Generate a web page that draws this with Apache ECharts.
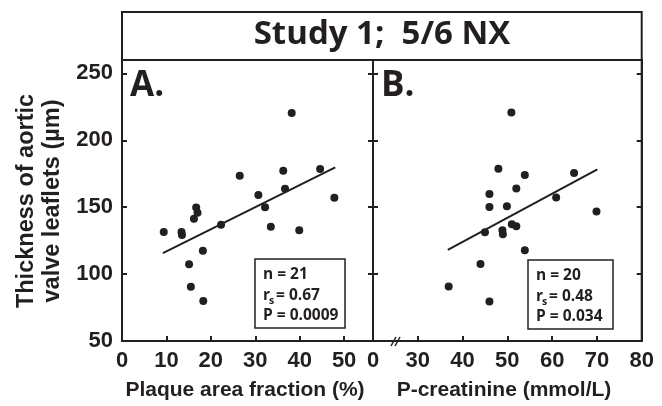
<!DOCTYPE html>
<html><head><meta charset="utf-8">
<script src="https://cdn.jsdelivr.net/npm/echarts@6/dist/echarts.min.js"></script>
<style>html,body{margin:0;padding:0;background:#fff}#c{width:662px;height:406px}</style>
</head><body><div id="c"></div>
<script>
// ---- data ----
const titleText = 'Study 1;  5/6 NX';
const yTicks = [50, 100, 150, 200, 250];
const xTicksA = [0, 10, 20, 30, 40, 50];
const xTicksB = [20, 30, 40, 50, 60, 70, 80];   // 20 is drawn as "0" (axis break)
const xNameA = 'Plaque area fraction (%)';
const xNameB = 'P-creatinine (mmol/L)';
const yName = ['Thickness of aortic', 'valve leaflets (µm)'];

const plaqueX = [9.4, 13.4, 13.5, 15.1, 15.5, 16.2, 16.7, 17.0, 18.2, 18.3, 22.3, 26.5, 30.7, 32.2, 33.5, 36.3, 36.7, 38.2, 39.9, 44.6, 47.8];
const plaqueY = [131.4, 131.4, 129.2, 107.4, 90.6, 141.4, 149.7, 145.9, 117.4, 79.8, 136.9, 173.5, 159.2, 150.0, 135.4, 177.3, 163.8, 220.4, 132.7, 178.6, 157.0];
const fitAx = [9.2, 48.0];
const fitAy = [115.6, 179.8];

const creatX = [36.9, 44.0, 45.0, 46.0, 46.0, 46.0, 48.0, 48.9, 49.0, 49.9, 50.9, 51.0, 52.0, 52.0, 53.9, 53.9, 60.9, 64.9, 69.9];
const creatY = [90.8, 107.6, 131.2, 159.8, 150.2, 79.5, 178.8, 132.7, 129.7, 150.7, 220.7, 137.2, 164.0, 135.7, 174.0, 117.9, 157.2, 175.5, 146.7];
const fitBx = [36.7, 70.1];
const fitBy = [118.1, 178.3];

const statsA = ['n = 21', '0.67', 'P = 0.0009'];
const statsB = ['n = 20', '0.48', 'P = 0.034'];

// ---- build ----
const zip = (a, b) => a.map((v, i) => [v, b[i]]);
const FONT = '"Liberation Sans", Arial, sans-serif';
const FONT2 = '"Open Sans", "Noto Sans", sans-serif';
const black = '#231f20';

const gA = { left: 122, top: 60, width: 251, height: 281 };
const gB = { left: 373, top: 60, width: 268.7, height: 281 };

function yAx(grid, pos, labels) {
  return {
    type: 'value', gridIndex: grid, position: pos, min: 50, max: 260, interval: 50,
    axisLine: { show: true, lineStyle: { color: black, width: 2 } },
    axisTick: { show: true, inside: true, length: 5, lineStyle: { color: black, width: 2 } },
    axisLabel: {
      show: labels, color: black, fontFamily: FONT, fontWeight: 'bold', fontSize: 22, margin: 9,
      formatter: v => yTicks.includes(v) ? String(v) : ''
    },
    splitLine: { show: false }
  };
}
function xAx(grid, min, max, ticks, fmt) {
  return {
    type: 'value', gridIndex: grid, min: min, max: max, interval: 10,
    axisLine: { show: true, onZero: false, lineStyle: { color: black, width: 2 } },
    axisTick: { show: true, inside: true, length: 5, lineStyle: { color: black, width: 2 } },
    axisLabel: {
      color: black, fontFamily: FONT, fontWeight: 'bold', fontSize: 22, margin: 9,
      showMinLabel: true, showMaxLabel: true,
      formatter: v => ticks.includes(v) ? fmt(v) : ''
    },
    splitLine: { show: false }
  };
}

function statBox(x, y, w, h, s) {
  const tx = x + 8;
  const f = 'bold 15.5px ' + FONT2;
  return {
    type: 'group', children: [
      { type: 'rect', shape: { x: x, y: y, width: w, height: h }, style: { fill: '#fff', stroke: black, lineWidth: 1.5 } },
      { type: 'text', x: tx, y: y + 16, style: { text: s[0], font: f, fill: black, verticalAlign: 'middle' } },
      { type: 'text', x: tx, y: y + 37, style: { text: 'r', font: f, fill: black, verticalAlign: 'middle' } },
      { type: 'text', x: tx + 6, y: y + 42, style: { text: 's', font: 'bold 10.5px ' + FONT2, fill: black, verticalAlign: 'middle' } },
      { type: 'text', x: tx + 13, y: y + 37, style: { text: '= ' + s[1], font: f, fill: black, verticalAlign: 'middle' } },
      { type: 'text', x: tx, y: y + 57, style: { text: s[2], font: f, fill: black, verticalAlign: 'middle' } }
    ]
  };
}

const chart = echarts.init(document.getElementById('c'), null, { renderer: 'canvas' });
chart.setOption({
  animation: false,
  backgroundColor: '#fff',
  grid: [
    Object.assign({ show: true, borderColor: black, borderWidth: 2, backgroundColor: 'transparent' }, gA),
    Object.assign({ show: true, borderColor: black, borderWidth: 2, backgroundColor: 'transparent' }, gB)
  ],
  xAxis: [
    xAx(0, 0, 56.5, xTicksA, v => String(v)),
    xAx(1, 20, 80, xTicksB, v => v === 20 ? '0' : String(v))
  ],
  yAxis: [yAx(0, 'left', true), yAx(0, 'right', false), yAx(1, 'left', false), yAx(1, 'right', false)],
  series: [
    { type: 'scatter', xAxisIndex: 0, yAxisIndex: 0, data: zip(plaqueX, plaqueY), symbolSize: 8, itemStyle: { color: black, opacity: 1 } },
    { type: 'line', xAxisIndex: 0, yAxisIndex: 0, data: zip(fitAx, fitAy), symbol: 'none', lineStyle: { color: black, width: 2 } },
    { type: 'scatter', xAxisIndex: 1, yAxisIndex: 2, data: zip(creatX, creatY), symbolSize: 8, itemStyle: { color: black, opacity: 1 } },
    { type: 'line', xAxisIndex: 1, yAxisIndex: 2, data: zip(fitBx, fitBy), symbol: 'none', lineStyle: { color: black, width: 2 } }
  ],
  graphic: [
    { type: 'rect', shape: { x: 122, y: 12, width: 519.7, height: 48 }, style: { fill: 'none', stroke: black, lineWidth: 2 } },
    { type: 'text', x: 382, y: 35, style: { text: titleText, font: 'bold 33px ' + FONT2, fill: black, align: 'center', verticalAlign: 'middle' } },
    { type: 'text', x: 130, y: 86, style: { text: 'A.', font: 'bold 35px ' + FONT2, fill: black, verticalAlign: 'middle' } },
    { type: 'text', x: 381, y: 86, style: { text: 'B.', font: 'bold 35px ' + FONT2, fill: black, verticalAlign: 'middle' } },
    statBox(255, 259, 90, 69, statsA),
    statBox(528, 260, 85, 69, statsB),
    { type: 'line', shape: { x1: 391, y1: 346, x2: 396, y2: 337 }, style: { stroke: black, lineWidth: 1.5 } },
    { type: 'line', shape: { x1: 395, y1: 346, x2: 400, y2: 337 }, style: { stroke: black, lineWidth: 1.5 } },
    { type: 'text', x: 245, y: 390, style: { text: xNameA, font: 'bold 21px ' + FONT, fill: black, align: 'center', verticalAlign: 'middle' } },
    { type: 'text', x: 504, y: 390, style: { text: xNameB, font: 'bold 21px ' + FONT, fill: black, align: 'center', verticalAlign: 'middle' } },
    { type: 'text', x: 27, y: 201, rotation: Math.PI / 2, style: { text: yName[0], font: 'bold 23.5px ' + FONT, fill: black, align: 'center', verticalAlign: 'middle' } },
    { type: 'text', x: 53, y: 201, rotation: Math.PI / 2, style: { text: yName[1], font: 'bold 23.5px ' + FONT, fill: black, align: 'center', verticalAlign: 'middle' } }
  ]
});
</script>
</body></html>
